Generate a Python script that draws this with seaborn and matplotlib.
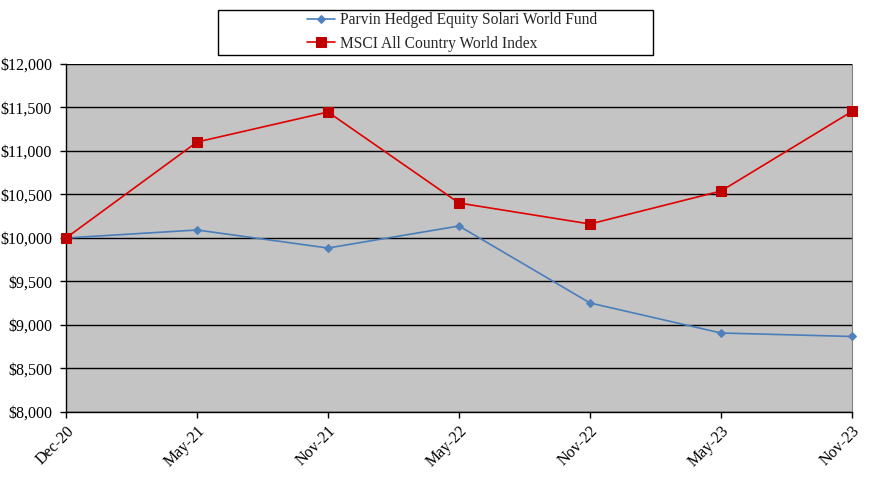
import matplotlib
matplotlib.use("Agg")
import matplotlib.pyplot as plt
import seaborn as sns
import pandas as pd
from matplotlib.ticker import FuncFormatter
from matplotlib.patches import Rectangle

dates = ["Dec-20", "May-21", "Nov-21", "May-22", "Nov-22", "May-23", "Nov-23"]
fund_name = "Parvin Hedged Equity Solari World Fund"
index_name = "MSCI All Country World Index"
fund_values = [10000, 10092, 9885, 10138, 9253, 8908, 8868]
index_values = [10000, 11103, 11448, 10402, 10161, 10540, 11455]
y_ticks = [8000, 8500, 9000, 9500, 10000, 10500, 11000, 11500, 12000]

sns.set_style("white")
plt.rcParams['font.family'] = ['Liberation Serif', 'DejaVu Serif']

df = pd.DataFrame({
    "date": dates * 2,
    "value": fund_values + index_values,
    "series": [fund_name] * len(dates) + [index_name] * len(dates),
})

fig = plt.figure(figsize=(8.71, 4.78), dpi=100)
ax = fig.add_axes([66/871, 1 - 412/478, (852 - 66)/871, (412 - 64)/478])
ax.set_facecolor("#c4c4c4")

sns.lineplot(data=df[df.series == fund_name], x="date", y="value", ax=ax, sort=False,
             color="#4a7ebb", marker="D", markersize=4.5, markerfacecolor="#4f81bd",
             markeredgecolor="#4f81bd", linewidth=1.2, label=fund_name, legend=False,
             clip_on=False, zorder=4)
sns.lineplot(data=df[df.series == index_name], x="date", y="value", ax=ax, sort=False,
             color="#e00000", marker="s", markersize=6.5, markerfacecolor="#c00000",
             markeredgecolor="#c00000", linewidth=1.2, label=index_name, legend=False,
             clip_on=False, zorder=5)

ax.set_xlim(0, len(dates) - 1)
ax.set_ylim(y_ticks[0], y_ticks[-1])
ax.set_yticks(y_ticks)
ax.yaxis.set_major_formatter(FuncFormatter(lambda v, p: f"${v:,.0f}"))
ax.set_xticks(range(len(dates)))
ax.set_xticklabels(dates, rotation=45, ha="right", rotation_mode="anchor")
ax.set_xlabel("")
ax.set_ylabel("")
ax.grid(axis="y", color="black", linewidth=1)
ax.set_axisbelow(True)
ax.tick_params(axis="both", direction="out", length=4, width=1, color="black",
               labelsize=11.5, labelcolor="black")
ax.tick_params(axis="x", pad=4)
ax.tick_params(axis="y", pad=6)
ax.xaxis.set_ticks_position("bottom")
ax.yaxis.set_ticks_position("left")
for s in ["left", "bottom"]:
    ax.spines[s].set_color("black")
    ax.spines[s].set_linewidth(1)
ax.spines["right"].set_color("#808080")
ax.spines["top"].set_visible(False)

# legend box
fig.patches.append(Rectangle((218/871, 1 - 55/478), (653 - 218)/871, 45/478,
                             transform=fig.transFigure, facecolor="white",
                             edgecolor="black", linewidth=1, zorder=0))
handles, labels = ax.get_legend_handles_labels()
leg = fig.legend(handles, labels, loc="center",
                 bbox_to_anchor=(452/871, 1 - 32/478),
                 frameon=False, fontsize=11.2, handlelength=1.8,
                 borderpad=0.0, labelspacing=0.45, handletextpad=0.3)

fig.savefig("out.png", dpi=100)
